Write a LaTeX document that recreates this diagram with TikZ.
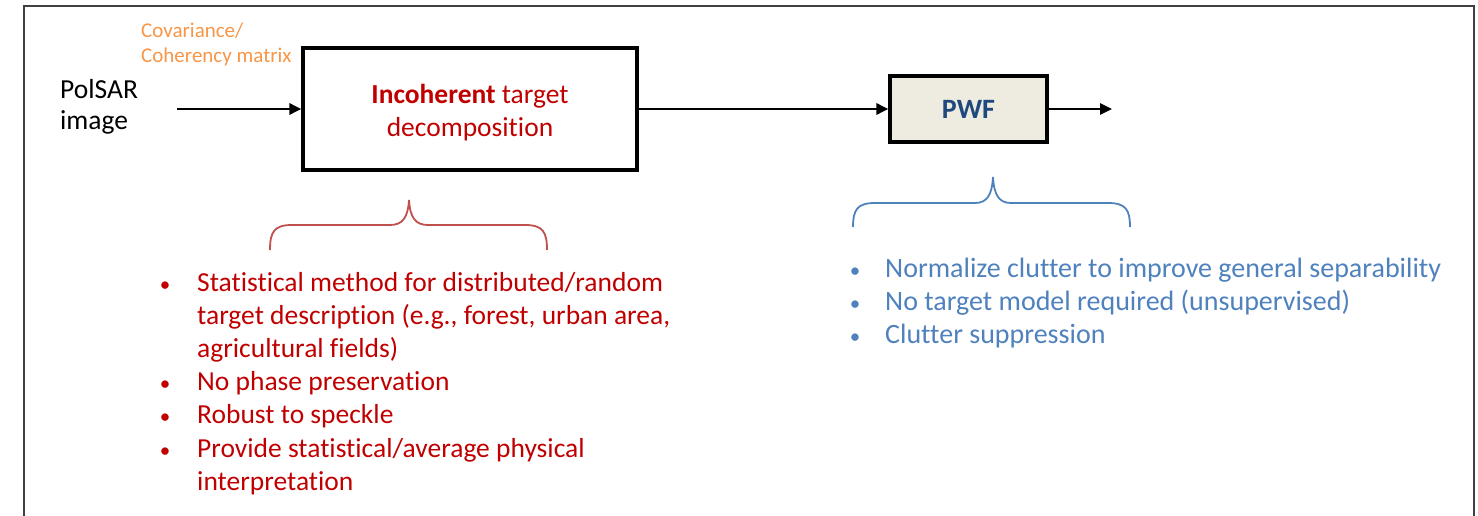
\documentclass[tikz,border=0pt]{standalone}
\usepackage{fontspec}
\setmainfont{Carlito}[Ligatures=NoCommon]
\usetikzlibrary{positioning,arrows.meta}

\definecolor{itdred}{HTML}{C00000}
\definecolor{bracered}{HTML}{C0504D}
\definecolor{pwfblue}{HTML}{4F81BD}
\definecolor{pwfdark}{HTML}{1F497D}
\definecolor{pwffill}{HTML}{EEECE1}
\definecolor{matorange}{HTML}{F79646}

\begin{document}
\begin{tikzpicture}[
    x=1pt, y=-1pt,
    block/.style={
        rectangle, line width=3.2pt, draw=black, align=center
    },
    flow/.style={
        -{Triangle[length=12pt,width=11pt]}, line width=2.8pt
    },
    brace/.style={
        line width=1.8pt
    },
    listitem/.style={
        anchor=base west, inner sep=0pt, align=left
    },
    dot/.style={
        anchor=base, inner sep=0pt, font=\fontsize{21}{21}\selectfont
    }
]
    \useasboundingbox (0,0) rectangle (1478,516);
    \draw [line width=1.6pt, black!75] (24,530) |- (1474,6) -- (1474,530);

    % processing chain
    \node (itd) [block, minimum width=334pt, minimum height=122pt, text=itdred,
        font=\fontsize{27.5}{33}\selectfont] at (470,109)
        {\rule{0pt}{27pt}\textbf{Incoherent} target\\decomposition};
    \node (pwf) [block, fill=pwffill, minimum width=157pt, minimum height=66pt,
        text=pwfdark, font=\fontsize{28}{33}\selectfont\bfseries] at (968.5,109) {PWF};
    % multi-line nodes sit on their last baseline
    \node (pol) [listitem, font=\fontsize{27.5}{32}\selectfont] at (60,130) {PolSAR\\image};
    \node (mat) [listitem, text=matorange, font=\fontsize{21}{25}\selectfont] at (141,63)
        {Covariance/\\Coherency matrix};
    \coordinate (out) at (1112,109);

    \draw [flow, shorten <=39pt] (pol.east |- itd) -- (itd);
    \draw [flow] (itd) -- (pwf);
    \draw [flow] (pwf) -- (out);

    % braces
    \draw [brace, bracered] (270,250) .. controls (270,232) and (274,225) .. (292,225)
        -- (390,225) .. controls (403,225) and (408,217) .. (409,200)
        .. controls (410,217) and (415,225) .. (428,225) -- (525,225)
        .. controls (543,225) and (547,232) .. (547,250);
    \draw [brace, pwfblue] (853,227) .. controls (853,210) and (857,203) .. (875,203)
        -- (975,203) .. controls (987,203) and (992,195) .. (993,177)
        .. controls (994,195) and (999,203) .. (1011,203) -- (1108,203)
        .. controls (1126,203) and (1130,210) .. (1130,227);

    % incoherent decomposition properties
    \begin{scope}[every node/.style={listitem, text=itdred, font=\fontsize{27.5}{33}\selectfont}]
        \node (r1) at (197,357) {Statistical method for distributed/random\\target description (e.g., forest, urban area,\\agricultural fields)};
        \node (r2) at (197,390) {No phase preservation};
        \node (r3) at (197,423) {Robust to speckle};
        \node (r4) at (197,490) {Provide statistical/average physical\\interpretation};
    \end{scope}
    \foreach \y in {291,390,423,457}
        \node [dot, text=itdred] at (165,\y) {\textbullet};

    % PWF properties
    \begin{scope}[every node/.style={listitem, text=pwfblue, font=\fontsize{28}{33}\selectfont}]
        \node (b1) at (885,277) {Normalize clutter to improve general separability};
        \node (b2) at (885,310) {No target model required (unsupervised)};
        \node (b3) at (885,343) {Clutter suppression};
    \end{scope}
    \foreach \y in {277,310,343}
        \node [dot, text=pwfblue] at (855,\y) {\textbullet};
\end{tikzpicture}
\end{document}
